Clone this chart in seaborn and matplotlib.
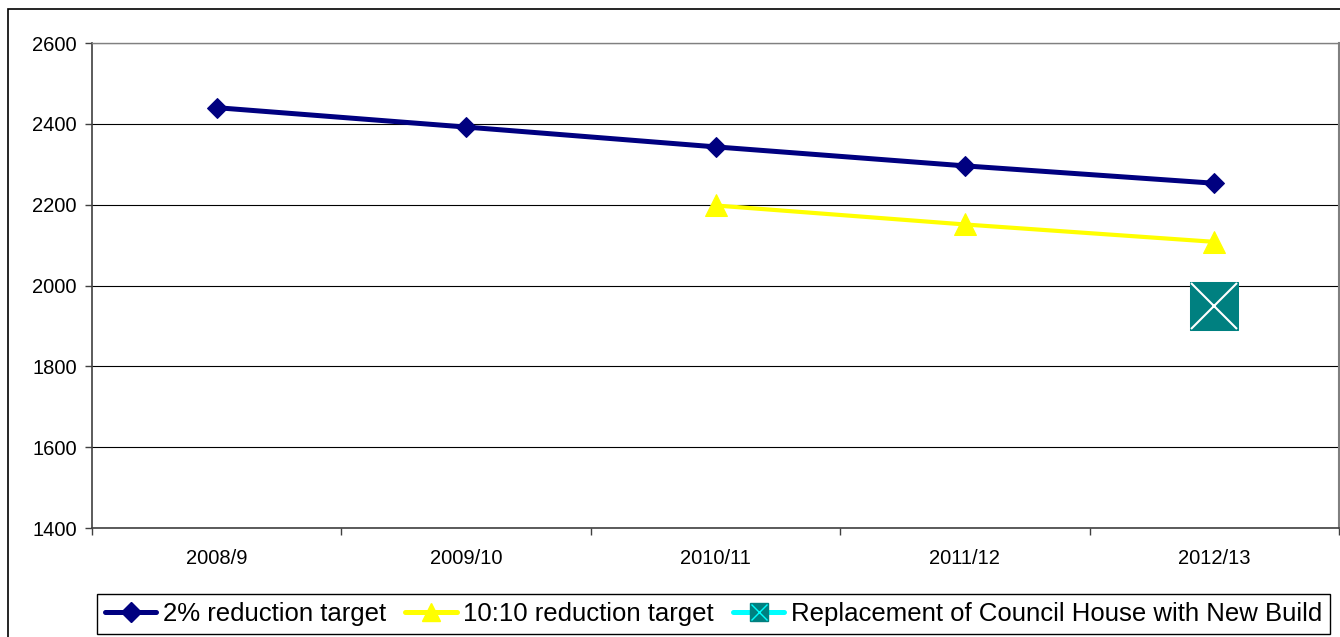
import numpy as np
import pandas as pd
import matplotlib
matplotlib.use("Agg")
import matplotlib.pyplot as plt
from matplotlib.lines import Line2D
from matplotlib.patches import Rectangle
from matplotlib.legend_handler import HandlerTuple
import seaborn as sns

# veriler
years = ["2008/9", "2009/10", "2010/11", "2011/12", "2012/13"]
target_2pct = [2440, 2392, 2343, 2296, 2253]
target_1010 = [np.nan, np.nan, 2198, 2151, 2108]
new_build = [np.nan, np.nan, np.nan, np.nan, 1950]
labels = ["2% reduction target", "10:10 reduction target",
          "Replacement of Council House with New Build"]
yticks = [1400, 1600, 1800, 2000, 2200, 2400, 2600]

sns.set_style("white")
plt.rcParams["font.family"] = ["Liberation Sans", "DejaVu Sans"]
plt.rcParams["text.color"] = "black"
plt.rcParams["xtick.labelcolor"] = "black"
plt.rcParams["ytick.labelcolor"] = "black"

navy = "#000080"
yellow = "#FFFF00"
teal = "#008080"
cyan = "#00FFFF"

fig = plt.figure(figsize=(13.4, 6.37), dpi=100)
ax = fig.add_axes([92 / 1340, 1 - 528 / 637, (1339 - 92) / 1340, (528 - 43) / 637])

df = pd.DataFrame({"year": years, "a": target_2pct, "b": target_1010, "c": new_build})

sns.lineplot(data=df, x="year", y="a", color=navy, linewidth=3.6, marker="D",
             markersize=10.5, markeredgecolor=navy, sort=False, ax=ax)
sns.lineplot(data=df.dropna(subset=["b"]), x="year", y="b", color=yellow, linewidth=3,
             marker="^", markersize=15.5, markeredgecolor=yellow, sort=False, ax=ax)
sns.lineplot(data=df.dropna(subset=["c"]), x="year", y="c", color=teal, linewidth=0,
             marker="s", markersize=34, markeredgecolor=teal, sort=False, ax=ax)
sns.lineplot(data=df.dropna(subset=["c"]), x="year", y="c", color=cyan, linewidth=0,
             marker="x", markersize=33, markeredgewidth=1.5, sort=False, ax=ax)

ax.set_xlim(-0.5, len(years) - 0.5)
ax.set_ylim(1400, 2600)
ax.set_yticks(yticks)
ax.set_xticks(range(len(years)))
ax.set_xticklabels(years)
ax.set_xticks(np.arange(-0.5, len(years), 1.0), minor=True)
ax.set_xlabel("")
ax.set_ylabel("")

ax.yaxis.grid(True, color="black", linewidth=0.8)
ax.xaxis.grid(False)
ax.set_axisbelow(True)

for s in ["left", "bottom"]:
    ax.spines[s].set_color("#404040")
    ax.spines[s].set_linewidth(1.2)
ax.spines["right"].set_color("#808080")
ax.spines["right"].set_linewidth(1.5)
ax.spines["top"].set_color("#808080")
ax.spines["top"].set_linewidth(1.0)

ax.tick_params(axis="y", which="major", left=True, length=5, width=1, color="#404040",
               labelsize=14.5, labelcolor="black", pad=6)
ax.tick_params(axis="x", which="major", bottom=False, length=0, labelsize=14.5,
               labelcolor="black", pad=15)
ax.tick_params(axis="x", which="minor", bottom=True, length=5, width=1, color="#404040")

# legenda
h1 = Line2D([], [], color=navy, linewidth=3.6, marker="D", markersize=10, markeredgecolor=navy)
h2 = Line2D([], [], color=yellow, linewidth=3.6, marker="^", markersize=13, markeredgecolor=yellow)
h3a = Line2D([], [], color=cyan, linewidth=3.6, marker="s", markersize=13,
             markerfacecolor=teal, markeredgecolor=teal)
h3b = Line2D([], [], color=cyan, linewidth=0, marker="x", markersize=12, markeredgewidth=1.0)
leg = fig.legend([h1, h2, (h3a, h3b)], labels, loc="center",
                 bbox_to_anchor=(713.5 / 1340, 1 - 614 / 637), ncol=3, fontsize=18.5,
                 frameon=True, fancybox=False, edgecolor="black", framealpha=1,
                 handlelength=2.0, handletextpad=0.25, columnspacing=0.75, borderpad=0.3,
                 borderaxespad=0, handler_map={tuple: HandlerTuple(ndivide=1)})
leg.get_frame().set_linewidth(1.0)
for t in leg.get_texts():
    t.set_color("black")

# dış çerçeve
fig.patches.append(Rectangle((8 / 1340, -0.1), 1.2, (637 - 9) / 637 + 0.1,
                             transform=fig.transFigure, fill=False,
                             edgecolor="black", linewidth=1.2))

fig.savefig("out.png", dpi=100)
